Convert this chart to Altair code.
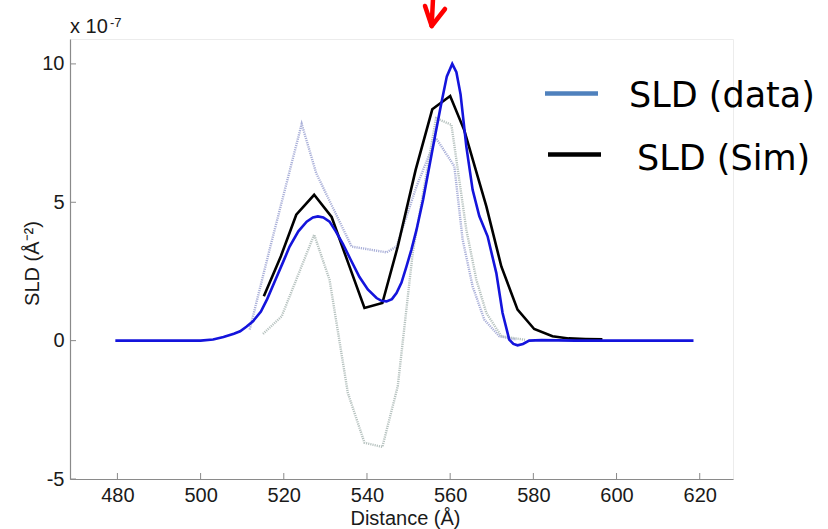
import altair as alt
import pandas as pd

# ---- data ----
data_x = [479.5, 485, 490, 495, 500, 503, 505.5, 508, 509.5, 511, 512.6, 514.5, 516, 518, 520,
          521.4, 523.5, 525.5, 527, 528.2, 529.5, 531, 532.5, 534.2, 536, 538.2, 540.2, 542.3,
          543.5, 544.7, 546, 547.1, 548.3, 549.5, 550.7, 551.9, 553.5, 555, 556.5, 557.9, 559.2,
          560.5, 561.5, 562.5, 563.9, 565.4, 567, 569, 571.1, 572.6, 574.2, 575.2, 576.2, 577.5,
          579, 582, 590, 600, 610, 618.5]
data_y = [0, 0, 0, 0, 0, 0.04, 0.13, 0.25, 0.34, 0.5, 0.7, 1.05, 1.5, 2.2, 2.9,
          3.4, 3.95, 4.3, 4.45, 4.49, 4.45, 4.3, 3.95, 3.5, 2.95, 2.3, 1.85, 1.54,
          1.44, 1.42, 1.5, 1.72, 2.1, 2.68, 3.3, 4.0, 5.1, 6.3, 7.5, 8.6, 9.55,
          10.0, 9.7, 8.9, 7.0, 5.45, 4.5, 3.77, 2.44, 1.0, 0.04, -0.12, -0.17, -0.12,
          0.0, 0.02, 0, 0, 0, 0]

sim_x = [515.2, 519.3, 523.0, 527.3, 531.5, 535.5, 539.4, 543.7, 547.4, 551.7, 555.7, 560.0,
         563.4, 568.7, 572.3, 576.2, 580.2, 584.6, 588.5, 592.5, 596.6]
sim_y = [1.6, 3.05, 4.55, 5.27, 4.47, 2.8, 1.18, 1.36, 3.4, 6.17, 8.36, 8.84,
         7.6, 4.85, 2.68, 1.12, 0.42, 0.16, 0.08, 0.06, 0.05]

upper_x = [511.8, 516.6, 524.3, 527.8, 536.3, 544.7, 547.1, 551.9, 556.6, 561.0, 563.0,
           565.4, 568.2, 571.8, 575.9]
upper_y = [0.4, 3.3, 7.83, 6.05, 3.4, 3.19, 3.4, 5.57, 7.32, 6.3, 3.65,
           1.96, 0.76, 0.16, 0.04]

lower_x = [515.0, 519.5, 527.3, 531.0, 535.4, 539.4, 543.7, 547.4, 551.0, 556.6, 560.3,
           562.2, 563.9, 566.3, 568.7, 572.3, 578.0]
lower_y = [0.24, 0.88, 3.83, 2.2, -1.89, -3.69, -3.84, -1.65, 3.17, 8.04, 7.8,
           5.8, 4.0, 2.2, 1.0, 0.16, 0.03]

x_ticks = [480, 500, 520, 540, 560, 580, 600, 620]
y_ticks = [-5, 0, 5, 10]

legend_labels = ["SLD (data)", "SLD (Sim)"]

W, H = 663, 440
FONT = "Liberation Sans"
LEG_FONT = "DejaVu Sans"

xs = alt.Scale(domain=[468.6, 628], nice=False, zero=False)
ys = alt.Scale(domain=[-5, 10.9], nice=False, zero=False)

x_axis = alt.Axis(values=x_ticks, title="Distance (Å)", labelPadding=6,
                  titleX=335, titleY=45, titleBaseline="alphabetic", titleAlign="center")
y_axis = alt.Axis(values=y_ticks, title="SLD (Å⁻²)", labelPadding=6,
                  labelExpr="replace(datum.label, '\u2212', '-')",
                  titleAngle=-90, titleX=-38, titleY=224, titleBaseline="middle",
                  titleAlign="center")


def xe():
    return alt.X("x:Q", scale=xs, axis=x_axis)


def ye():
    return alt.Y("y:Q", scale=ys, axis=y_axis)


def line(xv, yv, **kw):
    df = pd.DataFrame({"x": xv, "y": yv, "o": list(range(len(xv)))})
    return alt.Chart(df).mark_line(**kw).encode(x=xe(), y=ye(), order="o:Q")


upper = line(upper_x, upper_y, color="#a9afd8", strokeWidth=2.4, strokeDash=[1.2, 1.0])
lower = line(lower_x, lower_y, color="#b6c2bf", strokeWidth=2.4, strokeDash=[1.2, 1.0])
sim = line(sim_x, sim_y, color="#000000", strokeWidth=2.6)
dat = line(data_x, data_y, color="#1414dc", strokeWidth=2.6)

# inward ticks
xt = alt.Chart(pd.DataFrame({"x": x_ticks})).mark_rule(color="#8a8a8a", strokeWidth=1).encode(
    x=xe(), y=alt.value(H), y2=alt.value(H - 6))
yt = alt.Chart(pd.DataFrame({"y": y_ticks})).mark_rule(color="#8a8a8a", strokeWidth=1).encode(
    y=ye(), x=alt.value(0), x2=alt.value(6))

# "x 10^-7" exponent label
exp_base = alt.Chart(pd.DataFrame({"t": ["x 10"]})).mark_text(
    font=FONT, fontSize=20, align="left", baseline="alphabetic", color="#1a1a1a").encode(
    text="t:N", x=alt.value(0), y=alt.value(-6))
exp_sup = alt.Chart(pd.DataFrame({"t": ["-7"]})).mark_text(
    font=FONT, fontSize=13, align="left", baseline="alphabetic", color="#1a1a1a").encode(
    text="t:N", x=alt.value(40), y=alt.value(-12))

# manual legend
leg_line1 = alt.Chart(pd.DataFrame({"a": [0]})).mark_rule(color="#4f81bd", strokeWidth=4.5).encode(
    x=alt.value(475), x2=alt.value(528), y=alt.value(54.5))
leg_line2 = alt.Chart(pd.DataFrame({"a": [0]})).mark_rule(color="#000000", strokeWidth=4.5).encode(
    x=alt.value(478), x2=alt.value(531), y=alt.value(115.5))
leg_t1 = alt.Chart(pd.DataFrame({"t": [legend_labels[0]]})).mark_text(
    font=LEG_FONT, fontSize=35, align="left", baseline="alphabetic", color="#000000").encode(
    text="t:N", x=alt.value(559), y=alt.value(68))
leg_t2 = alt.Chart(pd.DataFrame({"t": [legend_labels[1]]})).mark_text(
    font=LEG_FONT, fontSize=35, align="left", baseline="alphabetic", color="#000000").encode(
    text="t:N", x=alt.value(567), y=alt.value(131))

# red arrow annotation
def seg(x1, y1, x2, y2):
    return alt.Chart(pd.DataFrame({"a": [0]})).mark_rule(
        color="#ff0000", strokeWidth=4.5, strokeCap="round").encode(
        x=alt.value(x1), y=alt.value(y1), x2=alt.value(x2), y2=alt.value(y2))

arrow = [seg(363, -40, 361.7, -14), seg(355, -33, 361.7, -13), seg(375, -30, 361.7, -13)]

chart = alt.layer(
    upper, lower, sim, dat, xt, yt, exp_base, exp_sup,
    leg_line1, leg_line2, leg_t1, leg_t2, *arrow
).properties(
    width=W, height=H,
    autosize=alt.AutoSizeParams(type="none"),
    padding={"left": 70, "top": 39, "right": 95, "bottom": 50},
    background="white",
).configure_view(
    stroke="#ececec", strokeWidth=1
).configure_axis(
    grid=False, ticks=False, domainColor="#8a8a8a", domainWidth=1.2,
    labelFont=FONT, labelFontSize=20, labelColor="#1a1a1a",
    titleFont=FONT, titleFontSize=20, titleFontWeight="normal", titleColor="#1a1a1a",
)

chart.save("out.html", embed_options={"renderer": "svg", "actions": False})
